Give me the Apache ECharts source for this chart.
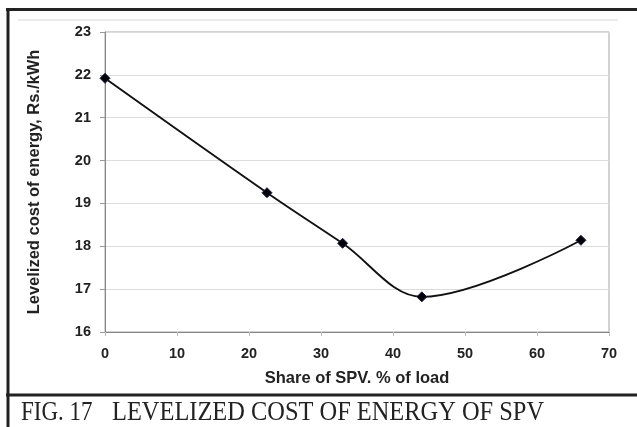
<!DOCTYPE html>
<html>
<head>
<meta charset="utf-8">
<script src="https://cdn.jsdelivr.net/npm/echarts@6/dist/echarts.min.js"></script>
<style>
html,body{margin:0;padding:0;background:#fff;}
#c{width:637px;height:427px;}
</style>
</head>
<body>
<div id="c"></div>
<script>
var shareSPV = [0, 22.5, 33.0, 44.0, 66.1];
var costLCOE = [21.92, 19.25, 18.07, 16.82, 18.14];
var xTicks = [0, 10, 20, 30, 40, 50, 60, 70];
var yTicks = [16, 17, 18, 19, 20, 21, 22, 23];

var chart = echarts.init(document.getElementById('c'), null, {renderer: 'canvas'});
var pts = shareSPV.map(function (x, i) { return [x, costLCOE[i]]; });
var labelFont = {fontFamily: 'Liberation Sans', fontWeight: 'bold', fontSize: 14.5, color: '#222'};
var nameFont = {fontFamily: 'Liberation Sans', fontWeight: 'bold', fontSize: 16.5, color: '#222'};

chart.setOption({
  animation: false,
  backgroundColor: '#fff',
  grid: {left: 105, right: 28, top: 32, bottom: 95, show: true, borderColor: '#a6a6a6', borderWidth: 1},
  xAxis: {
    type: 'value', min: xTicks[0], max: xTicks[xTicks.length - 1], interval: 10,
    name: 'Share of SPV. % of load', nameLocation: 'middle', nameGap: 38,
    nameTextStyle: nameFont,
    axisLine: {show: true, lineStyle: {color: '#868686', width: 1}},
    axisTick: {show: true, length: 4, lineStyle: {color: '#bbb'}},
    axisLabel: Object.assign({margin: 14}, labelFont),
    splitLine: {show: false}
  },
  yAxis: {
    type: 'value', min: yTicks[0], max: yTicks[yTicks.length - 1], interval: 1,
    name: 'Levelized cost of energy, Rs./kWh', nameLocation: 'middle', nameGap: 62, nameRotate: 90,
    nameTextStyle: nameFont,
    axisLine: {show: true, lineStyle: {color: '#868686', width: 1}},
    axisTick: {show: true, length: 5, lineStyle: {color: '#999'}},
    axisLabel: Object.assign({margin: 14}, labelFont),
    splitLine: {show: true, lineStyle: {color: '#dcdcdc', width: 1}}
  },
  series: [{
    type: 'line',
    data: pts,
    smooth: 0.35,
    symbol: 'diamond',
    symbolSize: 10,
    lineStyle: {color: '#111', width: 1.9},
    itemStyle: {color: '#000', borderColor: '#1c1c5e', borderWidth: 1}
  }],
  graphic: [
    {type: 'line', shape: {x1: 18, y1: 20, x2: 618, y2: 20}, style: {stroke: '#d8d8d8', lineWidth: 1}, silent: true},
    {type: 'line', shape: {x1: 6, y1: 9.5, x2: 637, y2: 9.5}, style: {stroke: '#222', lineWidth: 3}, silent: true},
    {type: 'line', shape: {x1: 8, y1: 8, x2: 8, y2: 427}, style: {stroke: '#222', lineWidth: 3}, silent: true},
    {type: 'line', shape: {x1: 6, y1: 395, x2: 637, y2: 395}, style: {stroke: '#222', lineWidth: 3}, silent: true},
    {type: 'text', x: 21, y: 399, scaleX: 0.82, style: {text: 'FIG. 17', font: '28px "Liberation Serif"', fill: '#222'}, silent: true},
    {type: 'text', x: 112, y: 399, scaleX: 0.872, style: {text: 'LEVELIZED COST OF ENERGY OF SPV', font: '28px "Liberation Serif"', fill: '#222'}, silent: true}
  ]
});
</script>
</body>
</html>
